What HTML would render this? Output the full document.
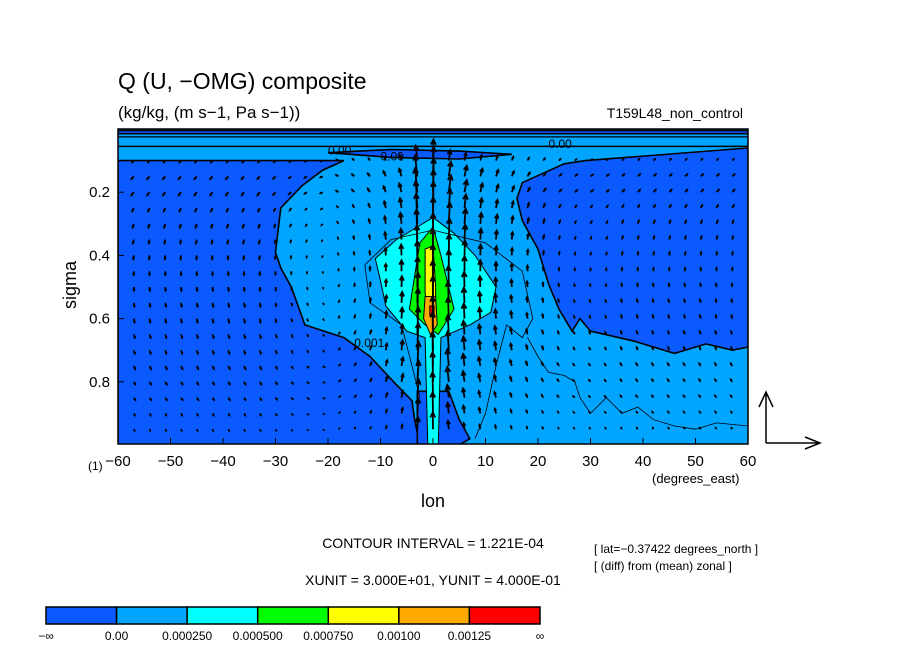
<!DOCTYPE html>
<html><head><meta charset="utf-8"><style>
body{margin:0;background:#fff;}
svg{display:block;font-family:"Liberation Sans",sans-serif;}
</style></head><body>
<svg id="chart" width="904" height="654" viewBox="0 0 904 654">
<rect width="904" height="654" fill="#fff"/>
<defs><clipPath id="pc"><rect x="118" y="129" width="630" height="315"/></clipPath></defs>
<g id="plot" clip-path="url(#pc)"></g>
<g id="axes"></g>
<text x="118" y="89" font-size="23">Q (U, −OMG) composite</text>
<text x="118" y="118" font-size="17">(kg/kg, (m s−1, Pa s−1))</text>
<text x="743" y="118" font-size="14" text-anchor="end">T159L48_non_control</text>
<text x="433" y="507" font-size="18" text-anchor="middle">lon</text>
<text x="76" y="285" font-size="18" text-anchor="middle" transform="rotate(-90 76 285)">sigma</text>
<text x="88" y="470" font-size="12">(1)</text>
<text x="652" y="483" font-size="13">(degrees_east)</text>
<text x="433" y="548" font-size="14" text-anchor="middle">CONTOUR INTERVAL = 1.221E-04</text>
<text x="433" y="585" font-size="14" text-anchor="middle">XUNIT = 3.000E+01, YUNIT = 4.000E-01</text>
<text x="594" y="553" font-size="12">[ lat=−0.37422 degrees_north ]</text>
<text x="594" y="570" font-size="12">[ (diff) from (mean) zonal ]</text>
<g stroke="#000" stroke-width="1.5" fill="none">
<path d="M766 443 V392 M759 407 L766 392 L773 407"/>
<path d="M766 443 H820 M805 437 L820 443 L805 449"/>
</g>
<g id="cbar"></g>
</svg>
<script>
const NS="http://www.w3.org/2000/svg";
// data
const levels=["−∞","0.00","0.000250","0.000500","0.000750","0.00100","0.00125","∞"];
const colors=["#0a5aff","#00a5ff","#00ffff","#00ff00","#ffff00","#ffaa00","#ff0000"];
const xTicks=[-60,-50,-40,-30,-20,-10,0,10,20,30,40,50,60];
const yTicks=[0.2,0.4,0.6,0.8];
// region polygons [lon, sigma]
const regionLeftNeg=[[-60,0.1],[-17,0.1],[-21,0.13],[-25,0.18],[-29,0.25],[-30,0.39],[-29,0.44],[-27,0.5],[-24.4,0.62],[-17,0.66],[-12,0.72],[-7.5,0.8],[-4,0.86],[-3.5,0.92],[-2.5,1],[-60,1]];
const regionRightNeg=[[25,0.11],[29,0.1],[60,0.06],[60,0.69],[57,0.7],[52,0.68],[46,0.71],[38,0.67],[30,0.64],[28,0.6],[26.5,0.64],[24,0.57],[22,0.49],[20,0.38],[17,0.29],[16,0.22],[17,0.17],[21,0.14]];
const regionTopNeg=[[-60,0.005],[60,0.005],[60,0.015],[-60,0.015]];
const regionTopNeg2=[[-20,0.075],[-8,0.065],[5,0.07],[15,0.08],[5,0.095],[-8,0.09]];
const regionBottomNeg=[[-3,0.83],[3,0.83],[5,0.92],[7,0.98],[5,1],[-3,1]];
const regionCyan=[[-11,0.41],[-7,0.35],[-3,0.31],[0,0.28],[4,0.33],[8,0.4],[12,0.5],[11,0.58],[7,0.62],[1.5,0.66],[1,1],[-1,1],[-1.5,0.66],[-5,0.64],[-9,0.56],[-10,0.48]];
const regionGreen=[[-4.5,0.57],[-2.5,0.36],[0,0.31],[1.5,0.4],[4,0.57],[1,0.65],[-1.5,0.62]];
const regionYellow=[[-1.5,0.38],[0,0.37],[0.5,0.5],[0.5,0.61],[-0.5,0.63],[-1.5,0.52]];
const regionOrange=[[-1.5,0.53],[0.5,0.53],[0.8,0.62],[-0.5,0.65],[-1.8,0.6]];
const regionRed=[[-0.6,0.56],[0.2,0.56],[0.2,0.59],[-0.6,0.59]];
const lineThin1=[[-13,0.43],[-8,0.35],[0,0.32],[10,0.36],[17,0.45],[19,0.6],[17,0.66],[14,0.62],[12,0.75],[10,0.9],[8,0.98]];
const lineThin2=[[-13,0.43],[-12,0.55],[-6,0.62],[-4,0.75],[-2.5,0.85]];
const lineThin3=[[18,0.66],[20,0.72],[22,0.77],[25,0.78],[27,0.8],[28,0.85],[30,0.9],[33,0.85],[36,0.9],[39,0.88],[42,0.92],[46,0.94],[50,0.95],[54,0.93],[60,0.94]];
// vector field
const vecLons=[-57,-54,-51,-48,-45,-42,-39,-36,-33,-30,-27,-24,-21,-18,-15,-12,-9,-6,-3,0,3,6,9,12,15,18,21,24,27,30,33,36,39,42,45,48,51,54,57];
const wCol=[-0.6,-0.6,-0.6,-0.6,-0.6,-0.6,-0.6,-0.6,-0.6,-0.5,-0.4,-0.3,-0.2,0.3,0.5,0.7,1.2,1.8,5,7,3.5,2.5,1.8,1.5,1.2,0.9,0.7,0.5,0.4,0.4,0.4,0.5,0.5,0.5,0.5,0.5,0.5,0.5,0.5];
const vecSig=[0.1,0.15,0.2,0.25,0.3,0.35,0.4,0.45,0.5,0.55,0.6,0.65,0.7,0.75,0.8,0.85,0.9,0.95];
const wRow=[0.5,0.7,0.8,0.9,1,1,1,1,1,1,1,0.9,0.9,0.8,0.7,0.6,0.5,0.4];
const uRow=[2,3,3,2,1.5,1,0.5,0,-0.5,-1,-1,-1.5,-1.5,-2,-2,-2,-1.5,-1];

const X=l=>118+(l+60)*5.25, Y=s=>129+s*316;
const plot=document.getElementById('plot'), axes=document.getElementById('axes'), cbar=document.getElementById('cbar');
function mk(tag,attrs,parent){const e=document.createElementNS(NS,tag);for(const k in attrs)e.setAttribute(k,attrs[k]);parent.appendChild(e);return e;}
function pts(a){return a.map(p=>X(p[0]).toFixed(1)+','+Y(p[1]).toFixed(1)).join(' ');}
let e=mk('rect',{x:118,y:129,width:630,height:315,fill:colors[1]},plot);


const regs=[[regionLeftNeg,0,'region-negative-west'],[regionRightNeg,0,'region-negative-east'],[regionTopNeg,0,'region-negative-top'],[regionTopNeg2,0,'region-negative-top-2'],[regionBottomNeg,0,'region-negative-bottom'],[regionCyan,2,'region-level-0.00025'],[regionGreen,3,'region-level-0.0005'],[regionYellow,4,'region-level-0.00075'],[regionOrange,5,'region-level-0.001'],[regionRed,6,'region-level-0.00125']];
regs.forEach(r=>{
  const p=mk('polygon',{points:pts(r[0]),fill:colors[r[1]],stroke:'#000','stroke-width':r[1]==0?1.6:1},plot);
  
  
});
[lineThin1,lineThin2,lineThin3].forEach((l,i)=>{
  const p=mk('polyline',{points:pts(l),fill:'none',stroke:'#000','stroke-width':0.8},plot);
  
  
});
[[0.025,1.2],[0.055,1.6]].forEach((h,i)=>{
  const p=mk('line',{x1:118,x2:748,y1:Y(h[0]),y2:Y(h[0]),stroke:'#000','stroke-width':h[1]},plot);
  
  
});
// contour labels
[[-20,0.08,'0.00'],[-10,0.1,'0.00'],[-15,0.69,'0.001'],[22,0.06,'0.00']].forEach(c=>{
  const t=mk('text',{x:X(c[0]),y:Y(c[1]),'font-size':12},plot);t.textContent=c[2];
  
  
});
// vectors
vecLons.forEach((lon,i)=>{vecSig.forEach((s,j)=>{
  const dist=Math.abs(lon);const dec=dist<3?0.2:0.6;
  const dx=uRow[j]*Math.sign(lon||1)*1.2*dec, dy=-wCol[i]*wRow[j]*6;
  const x0=X(lon),y0=Y(s),x1=x0+dx,y1=y0+dy;
  const L=Math.hypot(dx,dy)||1;
  let d=`M${x0.toFixed(1)} ${y0.toFixed(1)}L${x1.toFixed(1)} ${y1.toFixed(1)}`;
  const ux=dx/L,uy=dy/L,hl=Math.min(5,L*0.4);
  d+=`M${(x1-ux*hl-uy*hl*0.5).toFixed(1)} ${(y1-uy*hl+ux*hl*0.5).toFixed(1)}L${x1.toFixed(1)} ${y1.toFixed(1)}L${(x1-ux*hl+uy*hl*0.5).toFixed(1)} ${(y1-uy*hl-ux*hl*0.5).toFixed(1)}`;
  const p=mk('path',{d:d,stroke:'#000','stroke-width':1.8,fill:'none'},plot);
  
  
});});
// axes
e=mk('rect',{x:118,y:129,width:630,height:315,fill:'none',stroke:'#000','stroke-width':1.5},axes);


xTicks.forEach(v=>{
  const t=mk('text',{x:X(v),y:466,'font-size':15,'text-anchor':'middle'},axes);t.textContent=(v<0?'−':'')+Math.abs(v);
  
  
  mk('line',{x1:X(v),x2:X(v),y1:444,y2:438,stroke:'#000'},axes);
});
yTicks.forEach(v=>{
  const t=mk('text',{x:110,y:Y(v)+5,'font-size':15,'text-anchor':'end'},axes);t.textContent=v.toFixed(1);
  
  
  mk('line',{x1:118,x2:124,y1:Y(v),y2:Y(v),stroke:'#000'},axes);
});
// colorbar
const bw=(540-46)/colors.length;
colors.forEach((c,i)=>{
  const r=mk('rect',{x:46+i*bw,y:607,width:bw,height:17,fill:c,stroke:'#000','stroke-width':1.5},cbar);
  
  
});
levels.forEach((l,i)=>{
  const t=mk('text',{x:46+i*bw,y:640,'font-size':12,'text-anchor':'middle'},cbar);t.textContent=l;
  
  
});
</script>
</body></html>
